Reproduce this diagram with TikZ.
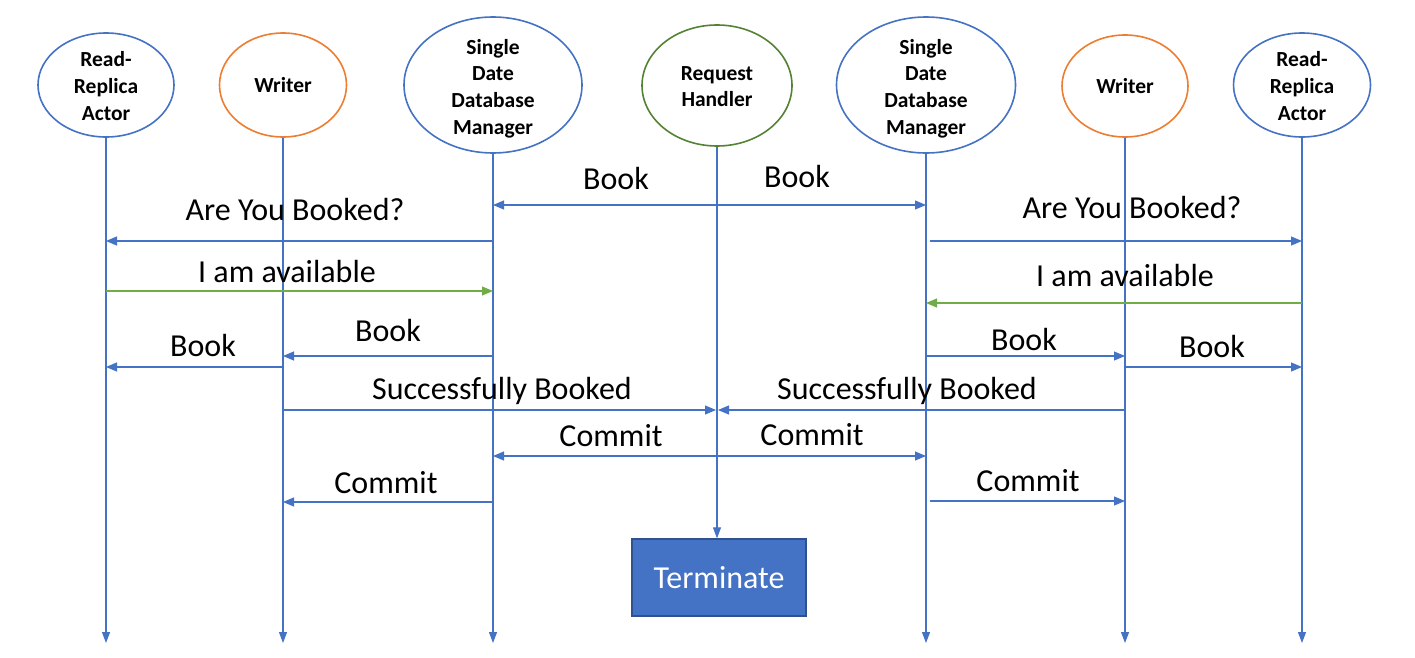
\documentclass[tikz,border=0pt]{standalone}
\usepackage{fontspec}
\setmainfont{Carlito}
\usetikzlibrary{shapes.geometric,arrows.meta}
\definecolor{cblue}{HTML}{4472C4}
\definecolor{cgreen}{HTML}{70AD47}
\definecolor{dgreen}{HTML}{548235}
\definecolor{corange}{HTML}{ED7D31}
\definecolor{dblue}{HTML}{2F528F}
\tikzset{
  actor/.style={ellipse, draw, line width=1.6pt, inner sep=0pt, align=center,
    font=\fontsize{21.5}{26.7}\selectfont\bfseries},
  atext/.style={inner sep=0pt, align=center, font=\fontsize{21.5}{26.7}\selectfont\bfseries},
  life/.style={draw=cblue, line width=1.1pt, -{Triangle[length=11pt,width=8pt]}},
  msg/.style={draw=cblue, line width=1.1pt, -{Triangle[length=11pt,width=9pt]}},
  gmsg/.style={draw=cgreen, line width=1.1pt, -{Triangle[length=11pt,width=9pt]}},
  bmsg/.style={draw=cblue, line width=1.1pt, {Triangle[length=11pt,width=9pt]}-{Triangle[length=11pt,width=9pt]}},
  lbl/.style={anchor=base, inner sep=0pt, font=\fontsize{32}{38}\selectfont}
}
\begin{document}
\begin{tikzpicture}[x=1pt,y=-1pt]
\useasboundingbox (0,0) rectangle (1415,658);
% actors
\node[actor, draw=cblue, minimum width=136pt, minimum height=104pt] (rr1) at (106,85) {};
\node[atext] (rr1t) at ([yshift=-1pt]rr1.center) {Read-\\Replica\\Actor};
\node[actor, draw=corange, minimum width=127pt, minimum height=104pt] (w1) at (283,85) {Writer};
\node[actor, draw=cblue, minimum width=178pt, minimum height=136pt] (db1) at (493,85) {};
\node[atext] (db1t) at ([yshift=-3.5pt]db1.center) {Single\\Date\\Database\\Manager};
\node[actor, draw=dgreen, minimum width=150pt, minimum height=121pt] (rh) at (717,85.5) {};
\node[atext] (rht) at ([yshift=-1pt]rh.center) {Request\\Handler};
\node[actor, draw=cblue, minimum width=179pt, minimum height=136pt] (db2) at (926,85) {};
\node[atext] (db2t) at ([yshift=-3.5pt]db2.center) {Single\\Date\\Database\\Manager};
\node[actor, draw=corange, minimum width=126pt, minimum height=102pt] (w2) at (1125,86) {Writer};
\node[actor, draw=cblue, minimum width=137pt, minimum height=104pt] (rr2) at (1302,85) {};
\node[atext] (rr2t) at ([yshift=-1pt]rr2.center) {Read-\\Replica\\Actor};
% terminate
\node[draw=dblue, fill=cblue, line width=1.3pt, minimum width=174pt, minimum height=77pt,
  text=white, font=\fontsize{32}{38}\selectfont] (term) at (719,577.5) {Terminate};
% lifeline ends
\coordinate (e1) at (106,643);
\coordinate (e2) at (283,643);
\coordinate (e3) at (493,643);
\coordinate (e5) at (926,643);
\coordinate (e6) at (1125,643);
\coordinate (e7) at (1302,643);
\draw[life] (rr1.south) -- (e1);
\draw[life] (w1.south) -- (e2);
\draw[life] (db1.south) -- (e3);
\draw[life] (rh.south) -- (rh.south |- term.north);
\draw[life] (db2.south) -- (e5);
\draw[life] (w2.south) -- (e6);
\draw[life] (rr2.south) -- (e7);
% messages
\draw[bmsg] (db1 |- 0,205) -- (db2 |- 0,205);
\node[lbl] (t1) at (616,189) {Book};
\node[lbl] (t2) at (797,187) {Book};

\draw[msg] (db1 |- 0,241) -- (rr1 |- 0,241);
\node[lbl] (t3) at (295,220) {Are You Booked?};
\draw[msg] ([xshift=4pt]db2 |- 0,241) -- (rr2 |- 0,241);
\node[lbl] (t4) at (1132,218) {Are You Booked?};

\draw[gmsg] (rr1 |- 0,291) -- (db1 |- 0,291);
\node[lbl] (t5) at (287,282) {I am available};
\draw[gmsg] (rr2 |- 0,303) -- (db2 |- 0,303);
\node[lbl] (t6) at (1125,286) {I am available};

\draw[msg] (db1 |- 0,356) -- (w1 |- 0,356);
\node[lbl] (t7) at (388,341) {Book};
\draw[msg] (w1 |- 0,367) -- (rr1 |- 0,367);
\node[lbl] (t8) at (203,356) {Book};
\draw[msg] (db2 |- 0,356) -- (w2 |- 0,356);
\node[lbl] (t9) at (1024,350) {Book};
\draw[msg] (w2 |- 0,367) -- (rr2 |- 0,367);
\node[lbl] (t10) at (1212,357) {Book};

\draw[msg] (w1 |- 0,410) -- ([xshift=-1pt]rh |- 0,410);
\node[lbl] (t11) at (502,399) {Successfully Booked};
\draw[msg] (w2 |- 0,410) -- ([xshift=1pt]rh |- 0,410);
\node[lbl] (t12) at (907,399) {Successfully Booked};

\draw[bmsg] (db1 |- 0,456) -- (db2 |- 0,456);
\node[lbl] (t13) at (611,446) {Commit};
\node[lbl] (t14) at (812,445) {Commit};

\draw[msg] (db1 |- 0,502) -- (w1 |- 0,502);
\node[lbl] (t15) at (386,493) {Commit};
\draw[msg] ([xshift=4pt]db2 |- 0,501) -- (w2 |- 0,501);
\node[lbl] (t16) at (1028,491) {Commit};
\end{tikzpicture}
\end{document}
